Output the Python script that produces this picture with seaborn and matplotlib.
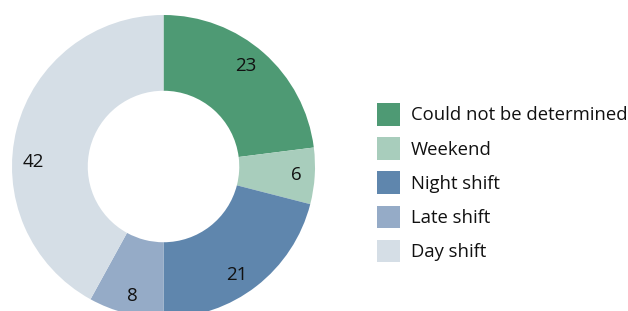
import matplotlib
matplotlib.use("Agg")
import numpy as np
import matplotlib.pyplot as plt
import seaborn as sns

# Shift distribution (share of cases)
labels = ["Could not be determined", "Weekend", "Night shift", "Late shift", "Day shift"]
values = [23, 6, 21, 8, 42]
colors = ["#4e9a74", "#a8cdbc", "#5f86ad", "#95abc7", "#d5dee6"]
# where the value labels sit, in units of the outer radius
label_pos = [(0.545, 0.663), (0.875, -0.056), (0.485, -0.716), (-0.208, -0.855), (-0.861, 0.030)]

sns.set_theme(style="white")
plt.rcParams["font.family"] = ["Open Sans", "DejaVu Sans"]

fig = plt.figure(figsize=(6.28, 3.11), dpi=100)
W, H = 628, 311
cx, cy, r = 163.5, 311 - 166.5, 151.5
ax = fig.add_axes([(cx - r) / W, (cy - r) / H, 2 * r / W, 2 * r / H])

wedges, _ = ax.pie(values, colors=colors, startangle=90, counterclock=False,
                   radius=1, wedgeprops=dict(width=0.5, linewidth=0))
for (x, y), v in zip(label_pos, values):
    ax.text(x, y, str(v), ha="center", va="center", fontsize=13.5, color="#111111")
ax.set_xlim(-1, 1)
ax.set_ylim(-1, 1)
ax.set_aspect("equal")
ax.axis("off")
for w in wedges:
    w.set_clip_on(False)

leg = fig.legend(wedges, labels, loc="upper left", bbox_to_anchor=(377 / W, 1 - 103 / H),
                 frameon=False, fontsize=13.3, handlelength=1.24, handleheight=1.5,
                 handletextpad=0.6, labelspacing=0.63, borderaxespad=0, borderpad=0)
for t in leg.get_texts():
    t.set_color("#111111")

fig.savefig("out.png", dpi=100)
